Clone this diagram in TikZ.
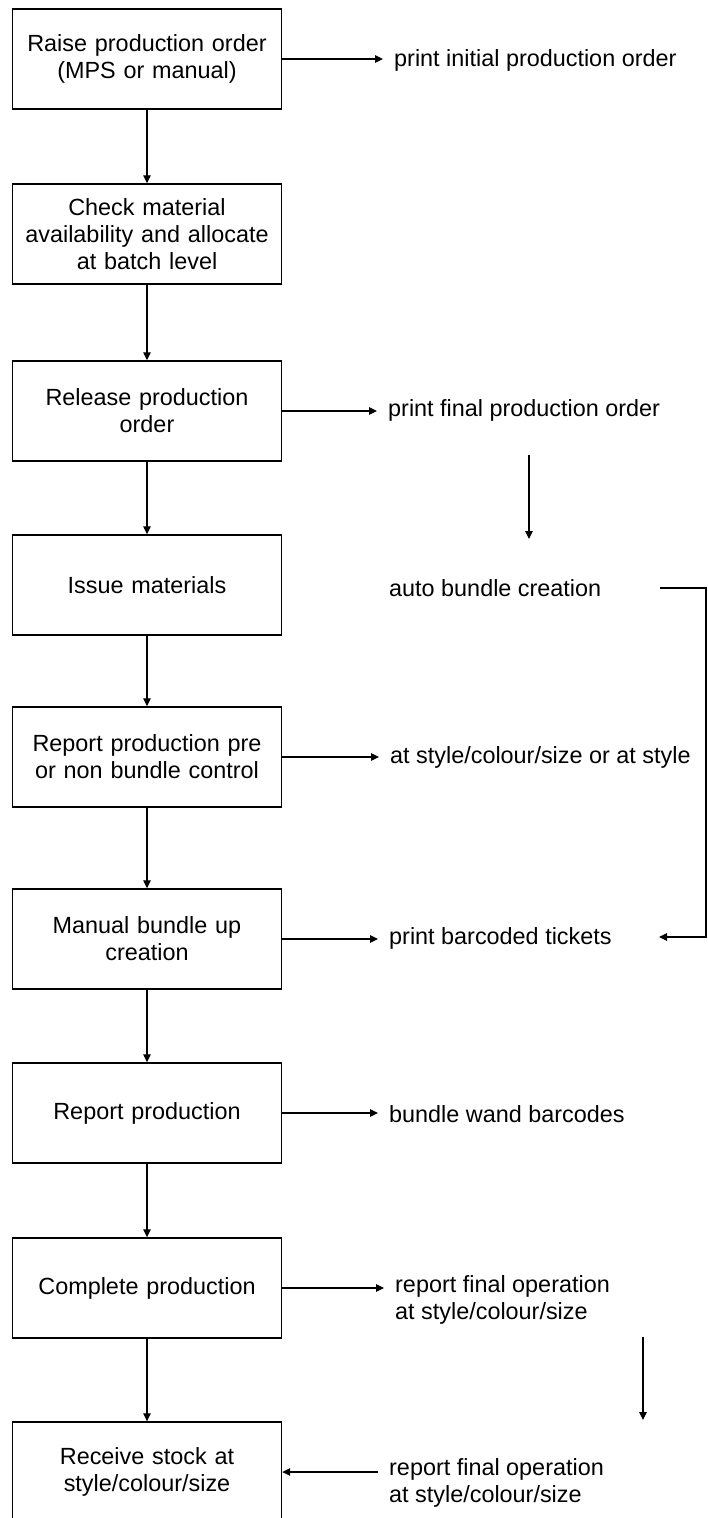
\documentclass[tikz,border=0pt]{standalone}
\usepackage{fontspec}
\setmainfont{Liberation Sans}
\usetikzlibrary{arrows.meta}
\begin{document}
\begin{tikzpicture}[x=1pt,y=-1pt,
  every node/.style={font=\fontsize{23.4}{27}\selectfont},
  stepbox/.style={draw, line width=1.4pt, minimum width=269pt, minimum height=100pt,
                  align=center, inner sep=0pt, text width=262pt},
  note/.style={anchor=west, inner xsep=11pt, inner ysep=0pt, align=left},
  flow/.style={line width=1.2pt, -{Triangle[length=8pt,width=7.5pt]}},
  link/.style={line width=1.2pt}]
\clip (0,0) rectangle (708,1518);

% main process steps
\node[stepbox] (b1) at (147,59)   {Raise production order\\(MPS or manual)};
\node[stepbox] (b2) at (147,234)  {Check material\\availability and allocate\\at batch level};
\node[stepbox] (b3) at (147,411)  {Release production\\order};
\node[stepbox] (b4) at (147,585)  {Issue materials};
\node[stepbox] (b5) at (147,757)  {Report production pre\\or non bundle control};
\node[stepbox] (b6) at (147,939)  {Manual bundle up\\creation};
\node[stepbox] (b7) at (147,1113) {Report production};
\node[stepbox] (b8) at (147,1288) {Complete production};
\node[stepbox] (b9) at (147,1472) {Receive stock at\\style/colour/size};

% side notes
\node[note] (p1) at (383,60)   {print initial production order};
\node[note] (p3) at (377,410)  {print final production order};
\node[note] (p4) at (378,588)  {auto bundle creation};
\node[note] (p5) at (379,757)  {at style/colour/size or at style};
\node[note] (p6) at (378,938)  {print barcoded tickets};
\node[note] (p7) at (378,1114) {bundle wand barcodes};
\node[note] (p8) at (384,1300) {report final operation\\at style/colour/size};
\node[note] (p9) at (378,1483) {report final operation\\at style/colour/size};

% main flow
\draw[flow] (b1) -- (b2);
\draw[flow] (b2) -- (b3);
\draw[flow] (b3) -- (b4);
\draw[flow] (b4) -- (b5);
\draw[flow] (b5) -- (b6);
\draw[flow] (b6) -- (b7);
\draw[flow] (b7) -- (b8);
\draw[flow] (b8) -- (b9);

% outputs, kept level with the step they leave
\draw[flow] (b1.east) -- (b1.east -| p1.west);
\draw[flow] (b3.east) -- (b3.east -| p3.west);
\draw[flow] (b5.east) -- (b5.east -| p5.west);
\draw[flow] (b6.east) -- (b6.east -| p6.west);
\draw[flow] (b7.east) -- (b7.east -| p7.west);
\draw[flow] (b8.east) -- (b8.east -| p8.west);
\draw[flow] (b9.east -| p9.west) -- (b9.east);

% free-standing links in the right column
\coordinate (d1s) at (529,455);
\coordinate (d1e) at (529,539);
\draw[flow] (d1s) -- (d1e);

\coordinate (d2s) at (643,1337);
\coordinate (d2e) at (643,1420);
\draw[flow] (d2s) -- (d2e);

\coordinate (aEnd) at (660,588);
\coordinate (k1) at (706,588);
\coordinate (k2) at (706,937);
\coordinate (tEnd) at (659,937);
\draw[flow] (aEnd) -- (k1) -- (k2) -- (tEnd);
\end{tikzpicture}
\end{document}
